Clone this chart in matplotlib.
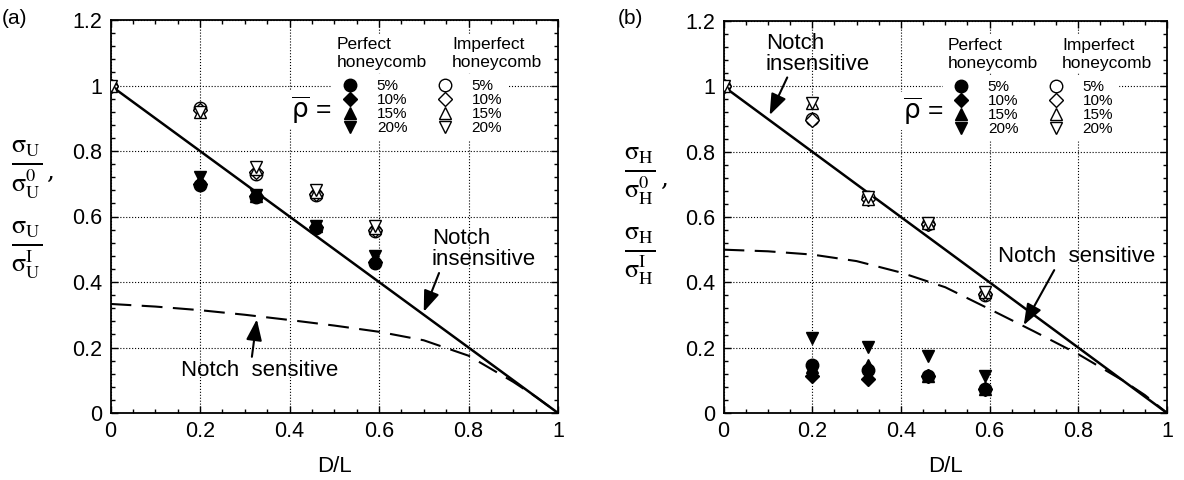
import matplotlib
matplotlib.use("Agg")
import matplotlib.pyplot as plt
from matplotlib.ticker import MultipleLocator

plt.rcParams['font.family'] = ['Liberation Sans', 'DejaVu Sans']
plt.rcParams['mathtext.fontset'] = 'stix'

# ---------------- data ----------------
x_perf = [0.2, 0.325, 0.46, 0.59]
x_imp = [0.0, 0.2, 0.325, 0.46, 0.59]
densities = ["5%", "10%", "15%", "20%"]

# panel (a)
a_perf_5 = [0.697, 0.660, 0.565, 0.457]
a_perf_10 = [0.700, 0.662, 0.567, 0.462]
a_perf_15 = [0.710, 0.664, 0.570, 0.470]
a_perf_20 = [0.720, 0.666, 0.572, 0.478]
a_imp_5 = [1.0, 0.930, 0.730, 0.665, 0.555]
a_imp_10 = [1.0, 0.925, 0.735, 0.670, 0.560]
a_imp_15 = [1.0, 0.920, 0.745, 0.675, 0.565]
a_imp_20 = [1.0, 0.918, 0.750, 0.680, 0.570]

# panel (b)
b_perf_5 = [0.148, 0.132, 0.112, 0.073]
b_perf_10 = [0.114, 0.104, 0.112, 0.073]
b_perf_15 = [0.140, 0.148, 0.112, 0.075]
b_perf_20 = [0.229, 0.203, 0.175, 0.114]
b_imp_5 = [1.0, 0.900, 0.660, 0.580, 0.360]
b_imp_10 = [1.0, 0.898, 0.655, 0.580, 0.365]
b_imp_15 = [1.0, 0.950, 0.655, 0.582, 0.370]
b_imp_20 = [1.0, 0.948, 0.660, 0.582, 0.370]

# theory curves
ins_x = [0.0, 1.0]
ins_y = [1.0, 0.0]
ns_x = [0.0, 0.1, 0.2, 0.3, 0.4, 0.5, 0.6, 0.7, 0.8, 0.9, 0.95, 1.0]
a_ns_y = [0.333, 0.325, 0.314, 0.300, 0.284, 0.267, 0.248, 0.222, 0.175, 0.095, 0.050, 0.0]
b_ns_y = [0.500, 0.495, 0.485, 0.465, 0.430, 0.385, 0.318, 0.250, 0.180, 0.100, 0.055, 0.0]

markers = ['o', 'D', '^', 'v']
msizes = [9, 7, 8.5, 8.5]

fig = plt.figure(figsize=(11.84, 4.8), dpi=100)
axA = fig.add_axes([110.5 / 1184, 1 - 413 / 480, 447.5 / 1184, 393 / 480])
axB = fig.add_axes([723.5 / 1184, 1 - 413 / 480, 443.5 / 1184, 392 / 480])


def setup(ax):
    ax.set_xlim(0, 1)
    ax.set_ylim(0, 1.2)
    ax.xaxis.set_minor_locator(MultipleLocator(0.05))
    ax.yaxis.set_minor_locator(MultipleLocator(0.04))
    ax.set_xticks([0, 0.2, 0.4, 0.6, 0.8, 1.0])
    ax.set_xticklabels(["0", "0.2", "0.4", "0.6", "0.8", "1"])
    ax.set_yticks([0, 0.2, 0.4, 0.6, 0.8, 1.0, 1.2])
    ax.set_yticklabels(["0", "0.2", "0.4", "0.6", "0.8", "1", "1.2"])
    ax.tick_params(which='both', direction='in', top=True, right=True,
                   labelsize=15.5, width=1.0)
    ax.tick_params(which='major', length=5, pad=6)
    ax.tick_params(which='minor', length=3)
    ax.grid(True, which='major', color='black', linestyle=':', linewidth=0.8)
    for s in ax.spines.values():
        s.set_linewidth(1.3)
    ax.set_xlabel("D/L", fontsize=16, labelpad=10)


def draw(ax, perf, imp, ns_y):
    ax.plot(ins_x, ins_y, color='black', lw=1.8, zorder=3)
    ax.plot(ns_x, ns_y, color='black', lw=1.5, dashes=(10, 5), zorder=3)
    perf_handles = []
    imp_handles = []
    for i in range(4):
        h, = ax.plot(x_imp, imp[i], linestyle='none', marker=markers[i],
                     ms=msizes[i], mfc='white', mec='black', mew=1.0,
                     zorder=4, label=densities[i])
        imp_handles.append(h)
    for i in range(4):
        h, = ax.plot(x_perf, perf[i], linestyle='none', marker=markers[i],
                     ms=msizes[i], mfc='black', mec='black', zorder=5,
                     label=densities[i])
        perf_handles.append(h)
    handles = perf_handles + imp_handles
    labels = densities + densities
    leg = ax.legend(handles, labels, ncol=2, loc='upper left',
                    bbox_to_anchor=(0.496, 0.862), fontsize=11,
                    handlelength=1.7, handletextpad=0.9, columnspacing=1.6,
                    labelspacing=0.0, borderpad=0.3, borderaxespad=0,
                    markerscale=1.0, handleheight=0.6,
                    frameon=True, fancybox=False, framealpha=1,
                    facecolor='white', edgecolor='white')
    leg.set_zorder(6)
    bb = dict(facecolor='white', edgecolor='none', pad=2)
    ax.text(0.506, 1.098, "Perfect\nhoneycomb", fontsize=12.5, ha='left',
            va='center', linespacing=1.2, bbox=bb, zorder=6)
    ax.text(0.763, 1.098, "Imperfect\nhoneycomb", fontsize=12.5, ha='left',
            va='center', linespacing=1.2, bbox=bb, zorder=6)
    ax.text(0.449, 0.925, r"$\overline{\mathrm{\rho}}$ =", fontsize=19,
            ha='center', va='center', zorder=7, bbox=bb,
            math_fontfamily='dejavusans')


setup(axA)
setup(axB)
draw(axA, [a_perf_5, a_perf_10, a_perf_15, a_perf_20],
     [a_imp_5, a_imp_10, a_imp_15, a_imp_20], a_ns_y)
draw(axB, [b_perf_5, b_perf_10, b_perf_15, b_perf_20],
     [b_imp_5, b_imp_10, b_imp_15, b_imp_20], b_ns_y)

arrow = dict(arrowstyle='-|>,head_length=0.8,head_width=0.3', color='black',
             lw=1.5, shrinkA=0, shrinkB=0)

# panel (a) annotations
axA.annotate("Notch\ninsensitive", xy=(0.70, 0.309), xytext=(0.718, 0.50),
             fontsize=16, ha='left', va='center', linespacing=1.0,
             arrowprops=dict(arrow, relpos=(0.08, 0.0)))
axA.annotate("Notch  sensitive", xy=(0.327, 0.286), xytext=(0.157, 0.131),
             fontsize=16, ha='left', va='center',
             arrowprops=dict(arrow, relpos=(0.45, 1.0)))

# panel (b) annotations
axB.annotate("Notch\ninsensitive", xy=(0.104, 0.912), xytext=(0.095, 1.10),
             fontsize=16, ha='left', va='center', linespacing=1.0,
             arrowprops=dict(arrow, relpos=(0.22, 0.0)))
axB.annotate("Notch  sensitive", xy=(0.677, 0.269), xytext=(0.618, 0.478),
             fontsize=16, ha='left', va='center',
             arrowprops=dict(arrow, relpos=(0.37, 0.0)))

# y labels (stacked fractions)
fs_lab = 27
fig.text(27 / 1184, 0.648,
         r"$\frac{\mathrm{\sigma}_{\mathrm{U}}}{\mathrm{\sigma}_{\mathrm{U}}^{0}}$",
         fontsize=fs_lab, ha='center', va='center')
fig.text(46 / 1184, 0.640, ",", fontsize=18, ha='left', va='center',
         family='DejaVu Serif')
fig.text(27 / 1184, 0.478,
         r"$\frac{\mathrm{\sigma}_{\mathrm{U}}}{\mathrm{\sigma}_{\mathrm{U}}^{\mathrm{I}}}$",
         fontsize=fs_lab, ha='center', va='center')

fig.text(640 / 1184, 0.634,
         r"$\frac{\mathrm{\sigma}_{\mathrm{H}}}{\mathrm{\sigma}_{\mathrm{H}}^{0}}$",
         fontsize=fs_lab, ha='center', va='center')
fig.text(660 / 1184, 0.626, ",", fontsize=18, ha='left', va='center',
         family='DejaVu Serif')
fig.text(640 / 1184, 0.465,
         r"$\frac{\mathrm{\sigma}_{\mathrm{H}}}{\mathrm{\sigma}_{\mathrm{H}}^{\mathrm{I}}}$",
         fontsize=fs_lab, ha='center', va='center')

# panel tags
fig.text(2 / 1184, 1 - 18 / 480, "(a)", fontsize=15, ha='left', va='center')
fig.text(618 / 1184, 1 - 18 / 480, "(b)", fontsize=15, ha='left', va='center')

fig.savefig("out.png", dpi=100)
